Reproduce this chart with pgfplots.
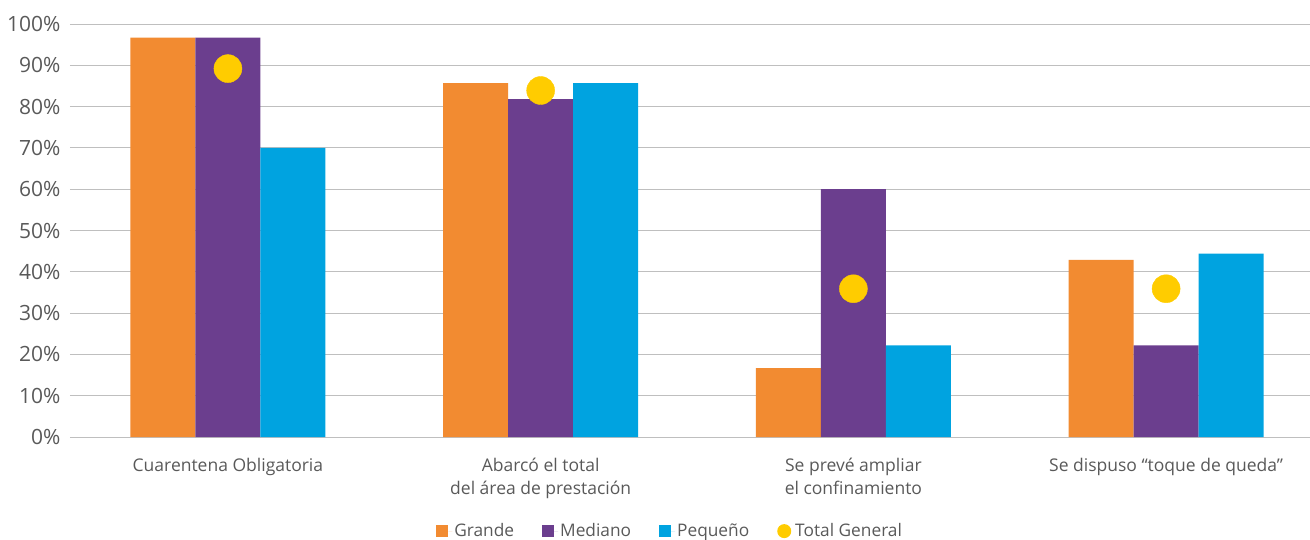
\documentclass[border=0pt]{standalone}
\usepackage{pgfplots}
\pgfplotsset{compat=1.18}
\usepackage{fontspec}
\setmainfont{Open Sans}
\definecolor{cGrande}{HTML}{F28B31}
\definecolor{cMediano}{HTML}{6B3E8E}
\definecolor{cPeq}{HTML}{00A3E0}
\definecolor{cTotal}{HTML}{FFCC00}
\definecolor{txt}{HTML}{595959}
\definecolor{grid}{HTML}{C4C4C4}
\begin{document}
\begin{tikzpicture}
\path[use as bounding box] (-70pt,-102pt) rectangle (1240pt,437pt);
\begin{axis}[
  at={(0,0)}, anchor=south west,
  scale only axis,
  width=1240pt, height=413pt,
  xmin=-0.505, xmax=3.46,
  ymin=0, ymax=100,
  ybar=0pt, bar width=65pt,
  axis line style={draw=none},
  xmajorgrids=false,
  ymajorgrids, grid style={grid, line width=1pt},
  tick style={draw=none},
  ytick={0,10,...,100},
  major tick length=0pt,
  xtick={0,1,2,3},
  xticklabels={Cuarentena Obligatoria, {Abarcó el total\\del área de prestación}, {Se prevé ampliar\\el confinamiento}, {Se dispuso “toque de queda”}},
  xticklabel style={align=center, font=\fontsize{17.5}{23}\selectfont, text=txt, yshift=-18pt},
  yticklabel={\pgfmathprintnumber{\tick}\%},
  yticklabel style={font=\fontsize{21}{24}\selectfont, text=txt, xshift=-6pt},
  /pgf/number format/assume math mode=true,
  legend columns=4,
  legend style={at={(0.484,-0.2)}, anchor=north, draw=none, fill=none,
    font=\fontsize{17.3}{20}\selectfont, text=txt,
    /tikz/every even column/.append style={column sep=26pt}},
  legend cell align=left,
  clip=false,
]
\addplot[fill=cGrande, draw=none,
  legend image code/.code={\fill[cGrande] (0pt,-6pt) rectangle (12pt,6pt); \path[draw=none] (12pt,0pt) -- (16pt,0pt);}]
  coordinates {(0,96.7) (1,85.7) (2,16.7) (3,42.9)};
\addlegendentry{Grande}
\addplot[fill=cMediano, draw=none,
  legend image code/.code={\fill[cMediano] (0pt,-6pt) rectangle (12pt,6pt); \path[draw=none] (12pt,0pt) -- (16pt,0pt);}]
  coordinates {(0,96.7) (1,81.8) (2,60.0) (3,22.2)};
\addlegendentry{Mediano}
\addplot[fill=cPeq, draw=none,
  legend image code/.code={\fill[cPeq] (0pt,-6pt) rectangle (12pt,6pt); \path[draw=none] (12pt,0pt) -- (16pt,0pt);}]
  coordinates {(0,70.0) (1,85.7) (2,22.2) (3,44.4)};
\addlegendentry{Pequeño}
\addplot[only marks, mark=*, mark size=14pt, color=cTotal, forget plot]
  coordinates {(0,89.2) (1,83.9) (2,35.9) (3,35.9)};
\addlegendimage{draw=none, legend image code/.code={\fill[cTotal] (7pt,0pt) circle (7pt); \path[draw=none] (14pt,0pt) -- (16pt,0pt);}}
\addlegendentry{Total General}
\end{axis}
\end{tikzpicture}
\end{document}
